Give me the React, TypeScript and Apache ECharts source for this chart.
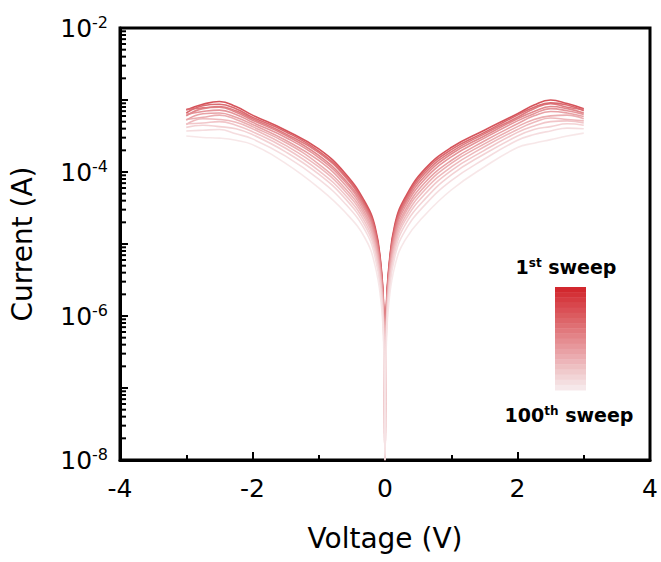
import React, { useEffect, useRef } from "react";
import * as echarts from "echarts";

// Voltage grid of each sweep (V)
const voltage = [-3, -2.75, -2.5, -2.25, -2, -1.5, -1, -0.6, -0.3, -0.15, -0.06, -0.02, 0, 0.02, 0.06, 0.15, 0.3, 0.6, 1, 1.5, 2, 2.25, 2.5, 2.75, 3];

// log10(Current / A) for representative sweeps
const logI_s001 = [-3.14, -3.06, -3.02, -3.09, -3.21, -3.42, -3.68, -4.02, -4.42, -4.76, -5.30, -5.90, -7.30, -5.90, -5.30, -4.72, -4.36, -3.96, -3.66, -3.42, -3.19, -3.07, -3.00, -3.05, -3.12];
const logI_s010 = [-3.18, -3.08, -3.06, -3.12, -3.24, -3.44, -3.71, -4.05, -4.45, -4.79, -5.33, -5.93, -7.60, -5.92, -5.33, -4.75, -4.39, -3.99, -3.69, -3.45, -3.21, -3.10, -3.04, -3.07, -3.15];
const logI_s019 = [-3.13, -3.11, -3.09, -3.15, -3.26, -3.47, -3.73, -4.07, -4.47, -4.81, -5.35, -5.95, -7.90, -5.95, -5.35, -4.78, -4.42, -4.02, -3.72, -3.47, -3.24, -3.12, -3.05, -3.10, -3.13];
const logI_s028 = [-3.22, -3.12, -3.10, -3.17, -3.28, -3.49, -3.77, -4.11, -4.50, -4.85, -5.38, -5.98, -7.00, -5.98, -5.38, -4.81, -4.45, -4.06, -3.75, -3.50, -3.26, -3.16, -3.09, -3.12, -3.18];
const logI_s037 = [-3.20, -3.16, -3.14, -3.20, -3.31, -3.52, -3.80, -4.14, -4.53, -4.88, -5.41, -6.01, -8.00, -6.01, -5.41, -4.85, -4.49, -4.10, -3.79, -3.53, -3.29, -3.19, -3.12, -3.15, -3.20];
const logI_s046 = [-3.28, -3.19, -3.18, -3.24, -3.34, -3.56, -3.84, -4.18, -4.57, -4.92, -5.45, -6.05, -7.50, -6.05, -5.45, -4.89, -4.54, -4.15, -3.84, -3.57, -3.33, -3.22, -3.16, -3.18, -3.23];
const logI_s055 = [-3.27, -3.24, -3.21, -3.27, -3.37, -3.59, -3.89, -4.23, -4.61, -4.97, -5.49, -6.09, -8.00, -6.09, -5.49, -4.94, -4.58, -4.20, -3.88, -3.61, -3.37, -3.27, -3.22, -3.21, -3.26];
const logI_s064 = [-3.34, -3.26, -3.27, -3.31, -3.40, -3.63, -3.93, -4.27, -4.65, -5.01, -5.53, -6.13, -7.20, -6.13, -5.53, -4.99, -4.63, -4.25, -3.93, -3.65, -3.41, -3.31, -3.25, -3.27, -3.29];
const logI_s073 = [-3.33, -3.32, -3.30, -3.35, -3.44, -3.67, -3.98, -4.32, -4.70, -5.06, -5.58, -6.18, -8.00, -6.18, -5.58, -5.04, -4.68, -4.31, -3.98, -3.70, -3.45, -3.36, -3.30, -3.29, -3.32];
const logI_s082 = [-3.38, -3.35, -3.37, -3.40, -3.48, -3.72, -4.03, -4.37, -4.75, -5.11, -5.63, -6.23, -7.60, -6.23, -5.63, -5.10, -4.74, -4.38, -4.04, -3.75, -3.50, -3.41, -3.37, -3.33, -3.35];
const logI_s091 = [-3.43, -3.42, -3.41, -3.47, -3.54, -3.78, -4.10, -4.44, -4.81, -5.18, -5.70, -6.30, -8.00, -6.30, -5.70, -5.17, -4.82, -4.46, -4.12, -3.82, -3.56, -3.48, -3.43, -3.39, -3.40];
const logI_s100 = [-3.50, -3.52, -3.53, -3.56, -3.62, -3.88, -4.22, -4.56, -4.92, -5.30, -5.80, -6.40, -8.00, -6.40, -5.80, -5.30, -4.95, -4.60, -4.25, -3.93, -3.66, -3.60, -3.55, -3.50, -3.46];

const sweeps = [logI_s001, logI_s010, logI_s019, logI_s028, logI_s037, logI_s046, logI_s055, logI_s064, logI_s073, logI_s082, logI_s091, logI_s100];
const sweepNames = ["1", "10", "19", "28", "37", "46", "55", "64", "73", "82", "91", "100"];
const sweepColors = ["#d04048", "#d65a60", "#da6b71", "#de7b80", "#e28a8f", "#e5989c", "#e9a6aa", "#ecb3b6", "#efc0c3", "#f2cdcf", "#f4d9db", "#f6e4e5"];

const yMajorExponents = [-8, -7, -6, -5, -4, -3, -2];
const yMinorMultipliers = [2, 3, 4, 5, 6, 7, 8, 9];

const FONT = '"DejaVu Sans", sans-serif';

function mix(a: number[], b: number[], t: number) {
  const c = a.map((v, i) => Math.round(v + (b[i] - v) * t));
  return `rgb(${c[0]},${c[1]},${c[2]})`;
}

export default function App() {
  const ref = useRef<HTMLDivElement>(null);
  useEffect(() => {
    if (!ref.current) return;
    const chart = echarts.init(ref.current, undefined, { renderer: "svg" });

    const minorTickValues: number[] = [];
    yMajorExponents.slice(0, -1).forEach((e) => {
      yMinorMultipliers.forEach((m) => minorTickValues.push(m * Math.pow(10, e)));
    });

    const lineSeries = sweeps.map((s, i) => ({
      type: "line",
      name: sweepNames[i] + " sweep",
      data: voltage.map((v, j) => [v, Math.pow(10, s[j])]),
      showSymbol: false,
      smooth: 0.45,
      lineStyle: { width: 1.6, color: sweepColors[i], opacity: 0.9 },
      itemStyle: { color: sweepColors[i] },
      z: 2,
    }));

    chart.setOption({
      animation: false,
      backgroundColor: "#fff",
      grid: { left: 114, right: 11, top: 28, bottom: 102, show: true, borderColor: "#000", borderWidth: 3, backgroundColor: "transparent" },
      xAxis: {
        type: "value",
        min: -4,
        max: 4,
        interval: 2,
        name: "Voltage (V)",
        nameLocation: "middle",
        nameGap: 64,
        nameTextStyle: { fontSize: 28, fontFamily: FONT, color: "#000" },
        axisLine: { show: true, onZero: false, lineStyle: { color: "#000", width: 3 } },
        axisTick: { show: true, inside: true, length: 8, lineStyle: { width: 2, color: "#000" } },
        minorTick: { show: true, splitNumber: 2, length: 5, lineStyle: { width: 2, color: "#000" } },
        axisLabel: { fontSize: 25, fontFamily: FONT, color: "#000", margin: 16 },
        splitLine: { show: false },
      },
      yAxis: {
        type: "log",
        logBase: 10,
        min: 1e-8,
        max: 1e-2,
        interval: 1,
        name: "Current (A)",
        nameLocation: "middle",
        nameGap: 84,
        nameRotate: 90,
        nameTextStyle: { fontSize: 28, fontFamily: FONT, color: "#000" },
        axisLine: { show: true, onZero: false, lineStyle: { color: "#000", width: 3 } },
        axisTick: { show: true, inside: true, length: 8, lineStyle: { width: 2, color: "#000" } },
        splitLine: { show: false },
        axisLabel: {
          margin: 12,
          color: "#000",
          formatter: (v: number) => {
            const e = Math.round(Math.log10(v));
            return e % 2 === 0 ? `{b|10}{s|${e}}` : "";
          },
          rich: {
            b: { fontSize: 25, fontFamily: FONT, color: "#000" },
            s: { fontSize: 16, fontFamily: FONT, color: "#000", verticalAlign: "top", padding: [0, 0, 12, 0] },
          },
        },
      },
      series: lineSeries,
    });

    const bands = 20;
    const barTop = 287;
    const barH = 103;
    const legendRects = Array.from({ length: bands }, (_, i) => ({
      type: "rect",
      id: "band" + i,
      shape: { x: 555, y: barTop + (i * barH) / bands, width: 31, height: barH / bands + 0.5 },
      style: { fill: mix([210, 40, 46], [246, 232, 234], i / (bands - 1)) },
      z: 10,
    }));

    const supRich = (n: number, s: number) => ({
      n: { fontSize: n, fontWeight: "bold", fontFamily: FONT, fill: "#000", color: "#000" },
      s: { fontSize: s, fontWeight: "bold", fontFamily: FONT, fill: "#000", color: "#000", verticalAlign: "top", padding: [0, 0, 8, 0] },
    });

    const legendTexts = [
      { type: "text", id: "t1", x: 566, y: 267, z: 10, style: { text: "{n|1}{s|st}{n| sweep}", align: "center", verticalAlign: "middle", rich: supRich(19, 12) } },
      { type: "text", id: "t100", x: 569, y: 415, z: 10, style: { text: "{n|100}{s|th}{n| sweep}", align: "center", verticalAlign: "middle", rich: supRich(19, 12) } },
    ];

    // log-style minor ticks (2..9 per decade) placed through the axis scale
    const minorLines = minorTickValues.map((v, i) => {
      const p = chart.convertToPixel({ gridIndex: 0 }, [-4, v]) as number[];
      return {
        type: "line",
        id: "mt" + i,
        z: 20,
        shape: { x1: p[0], y1: p[1], x2: p[0] + 6, y2: p[1] },
        style: { stroke: "#000", lineWidth: 2 },
      };
    });
    chart.setOption({ graphic: [...legendRects, ...legendTexts, ...minorLines] });

    return () => chart.dispose();
  }, []);
  return <div ref={ref} style={{ position: "absolute", left: 0, top: 0, width: 661, height: 562 }} />;
}
